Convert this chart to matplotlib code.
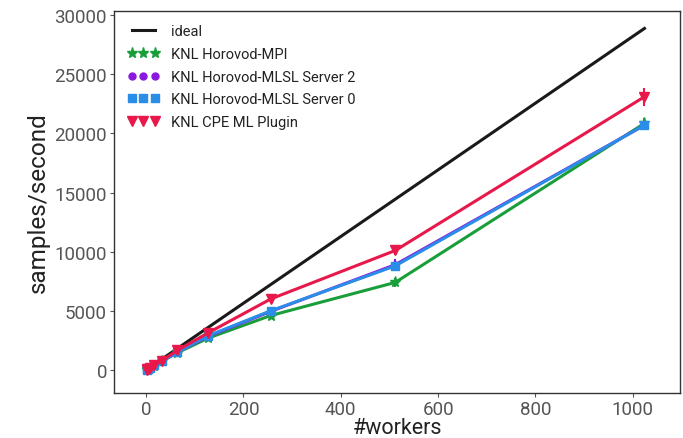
import matplotlib.pyplot as plt
from matplotlib.lines import Line2D

plt.rcParams['font.family'] = ['Roboto', 'DejaVu Sans']

workers = [1, 2, 4, 8, 16, 32, 64, 128, 256, 512, 1024]
ideal = [28, 56, 113, 226, 451, 902, 1805, 3610, 7219, 14438, 28877]
mpi = [26, 50, 98, 190, 370, 720, 1450, 2700, 4600, 7400, 20850]
mlsl2 = [27, 50, 100, 195, 380, 740, 1500, 2850, 4950, 8900, 20700]
mlsl0 = [27, 50, 100, 195, 380, 740, 1500, 2900, 5000, 8800, 20700]
cpe = [28, 55, 105, 205, 400, 780, 1650, 3150, 6000, 10100, 23100]
mpi_err = [5, 5, 10, 15, 30, 50, 80, 150, 250, 350, 450]
mlsl2_err = [5, 5, 10, 15, 30, 50, 80, 150, 250, 500, 300]
mlsl0_err = [5, 5, 10, 15, 30, 50, 80, 150, 250, 350, 300]
cpe_err = [5, 5, 10, 15, 30, 50, 80, 150, 300, 350, 750]

labels = ['ideal', 'KNL Horovod-MPI', 'KNL Horovod-MLSL Server 2',
          'KNL Horovod-MLSL Server 0', 'KNL CPE ML Plugin']

green = '#1a9e3a'
purple = '#8b18e0'
blue = '#2a8de8'
red = '#e8184a'

fig = plt.figure(figsize=(6.83, 4.39), dpi=100)
ax = fig.add_axes([114 / 683, 1 - 394 / 439, 566 / 683, 382 / 439])

ax.plot(workers, ideal, color='#1a1a1a', lw=2.2, zorder=2)

series = [(mpi, mpi_err, green, '*', 8),
          (mlsl2, mlsl2_err, purple, 'o', 5),
          (mlsl0, mlsl0_err, blue, 's', 5.5),
          (cpe, cpe_err, red, 'v', 6.5)]
for i, (vals, err, c, m, ms) in enumerate(series):
    ax.errorbar(workers, vals, yerr=err, color=c, lw=2.2, marker=m, ms=ms,
                elinewidth=1.5, capsize=0, zorder=3 + i)

ax.set_xlim(-66, 1097)
ax.set_ylim(-1950, 30350)
ax.set_xticks([0, 200, 400, 600, 800, 1000])
ax.set_yticks([0, 5000, 10000, 15000, 20000, 25000, 30000])
ax.tick_params(labelsize=13.5, colors='#555555', length=3, width=0.8, pad=2)
for s in ax.spines.values():
    s.set_color('#333333')
    s.set_linewidth(1.0)

ax.set_xlabel('#workers', fontsize=15.5, color='#222222', labelpad=-1)
ax.set_ylabel('samples/second', fontsize=17.5, color='#222222', labelpad=3)

handles = [Line2D([0], [0], color='#1a1a1a', lw=2.2)]
for vals, err, c, m, ms in series:
    handles.append(Line2D([0], [0], color=c, marker=m, ms=ms, lw=0))
leg = ax.legend(handles, labels, loc='upper left', frameon=False, fontsize=10.5,
                numpoints=3, handlelength=2.2, labelspacing=0.6,
                borderaxespad=0.5, handletextpad=0.8)
for t in leg.get_texts():
    t.set_color('#222222')

fig.savefig('out.png', dpi=100)
